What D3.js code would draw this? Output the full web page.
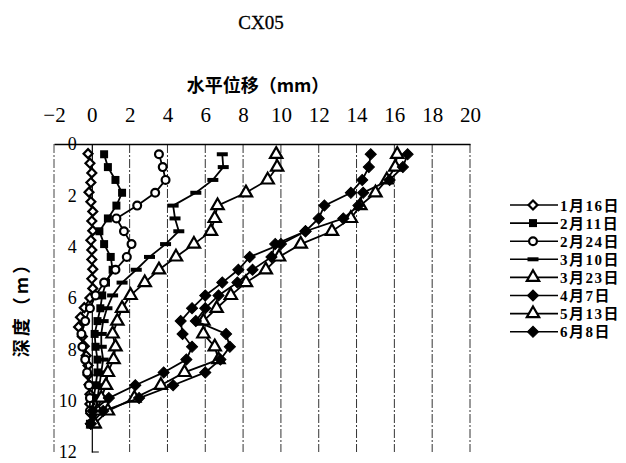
<!DOCTYPE html>
<html>
<head>
<meta charset="utf-8">
<script src="https://cdn.jsdelivr.net/npm/d3@7"></script>
<style>
  body { margin: 0; background: #fff; }
  svg { display: block; }
  .tick text { font-family: "Liberation Serif", serif; fill: #000; }
</style>
</head>
<body>
<svg id="chart" width="626" height="463"></svg>
<script>
// Tick labels
const xTicks = [-2, 0, 2, 4, 6, 8, 10, 12, 14, 16, 18, 20];
const yTicks = [0, 2, 4, 6, 8, 10, 12];

// Depths (m) - the first survey was read at a finer spacing
const depthsFine = [0.375, 0.75, 1.125, 1.5, 1.875, 2.25, 2.625, 3.0, 3.375, 3.75,
  4.125, 4.5, 4.875, 5.25, 5.625, 6.0, 6.375, 6.75, 7.125, 7.5,
  7.875, 8.25, 8.625, 9.0, 9.375, 9.75, 10.125, 10.5];
const depths = [0.4, 0.9, 1.4, 1.9, 2.4, 2.9, 3.4, 3.9, 4.4, 4.9, 5.4,
  5.9, 6.4, 6.9, 7.4, 7.9, 8.4, 8.9, 9.4, 9.9, 10.4, 10.9];

// Horizontal displacement (mm) per survey
const jan16 = [-0.2, -0.1, 0.0, -0.05, -0.15, -0.05, 0.05, 0.0, 0.05, -0.05,
  0.0, 0.0, 0.05, 0.0, 0.05, -0.1, -0.4, -0.6, -0.7, -0.5,
  -0.4, -0.3, -0.2, -0.2, -0.15, -0.1, -0.1, -0.05];
const feb11 = [0.65, 0.85, 1.25, 1.6, 1.3, 0.85, 0.4, 0.65, 1.0, 1.1, 0.75,
  0.55, 0.45, 0.3, 0.15, 0.2, 0.3, 0.3, 0.2, 0.1, 0.0, -0.1];
const feb24 = [3.55, 3.75, 3.9, 3.35, 2.4, 1.3, 1.7, 2.1, 1.85, 1.25, 0.65,
  0.2, -0.1, -0.35, -0.55, -0.5, -0.35, -0.25, -0.15, -0.1, -0.1, -0.05];
const mar10 = [6.9, 6.95, 6.4, 5.5, 4.3, 4.4, 4.6, 3.9, 3.05, 2.35, 1.6,
  1.1, 0.8, 0.6, 0.5, 0.5, 0.6, 0.5, 0.4, 0.3, 0.2, 0.1];
const mar23 = [9.75, 9.8, 9.3, 8.15, 6.65, 6.5, 6.3, 5.4, 4.45, 3.55, 2.8,
  2.05, 1.6, 1.35, 1.1, 1.25, 1.15, 0.85, 0.75, 0.5, 0.3, 0.1];
const apr7 = [14.75, 14.65, 14.3, 13.7, 12.3, 12.0, 11.3, 10.0, 8.35, 7.75, 6.9,
  6.0, 5.3, 4.7, 4.8, 5.3, 5.0, 3.8, 2.3, 0.9, 0.05, -0.05];
const may13 = [16.15, 16.05, 15.6, 15.0, 14.2, 13.7, 12.7, 11.05, 9.9, 9.2, 8.15,
  7.35, 6.6, 5.9, 5.9, 6.5, 6.7, 4.9, 3.65, 2.25, 0.85, 0.15];
const jun8 = [16.7, 16.45, 15.75, 14.35, 14.1, 13.3, 11.3, 9.7, 9.5, 8.5, 7.7,
  6.7, 6.0, 5.5, 7.1, 7.3, 6.8, 6.0, 4.3, 2.5, 0.6, -0.05];

const seriesNames = ["1月16日", "2月11日", "2月24日", "3月10日", "3月23日", "4月7日", "5月13日", "6月8日"];
const seriesValues = [jan16, feb11, feb24, mar10, mar23, apr7, may13, jun8];
const seriesDepths = [depthsFine, depths, depths, depths, depths, depths, depths, depths];
const seriesMarkers = ["diamondOpen", "square", "circleOpen", "dash", "triangleOpen", "diamond", "triangleOpen", "diamond"];

const svg = d3.select("#chart");

const x = d3.scaleLinear().domain([-2, 20]).range([54, 470]);
const y = d3.scaleLinear().domain([0, 12]).range([144, 452]);

// Title
svg.append("text")
  .attr("x", 261).attr("y", 29)
  .attr("text-anchor", "middle")
  .style("font-family", "Liberation Serif, serif")
  .style("font-size", "19px")
  .style("stroke", "#000")
  .style("stroke-width", 0.3)
  .text("CX05");

// Axis titles
svg.append("text")
  .attr("x", 258).attr("y", 92)
  .attr("text-anchor", "middle")
  .style("font-family", "Noto Sans CJK SC, sans-serif")
  .style("font-weight", "bold")
  .style("font-size", "18px")
  .text("水平位移（mm）");

svg.append("text")
  .attr("transform", "translate(28,305) rotate(-90)")
  .attr("text-anchor", "middle")
  .style("font-family", "Noto Sans CJK SC, sans-serif")
  .style("font-weight", "bold")
  .style("font-size", "18px")
  .style("letter-spacing", "3px")
  .text("深度（m）");

// Grid lines and left border
svg.append("g")
  .selectAll("line")
  .data(xTicks.filter((t) => t > 0))
  .enter()
  .append("line")
  .attr("x1", (d) => x(d))
  .attr("x2", (d) => x(d))
  .attr("y1", y(0))
  .attr("y2", y(12))
  .style("stroke", "#333")
  .style("stroke-width", 1)
  .style("stroke-dasharray", "9,2,2,2");

svg.append("line")
  .attr("x1", x(-2)).attr("x2", x(-2))
  .attr("y1", y(0)).attr("y2", y(12))
  .style("stroke", "#444")
  .style("stroke-dasharray", "9,2,2,2");

// Top axis
const xAxis = svg.append("g")
  .attr("transform", "translate(0," + y(0) + ")")
  .call(d3.axisTop(x).tickValues(xTicks).tickSize(0).tickSizeOuter(0).tickPadding(22));
xAxis.select(".domain").style("stroke", "#000").style("stroke-width", 1.5);
xAxis.selectAll(".tick text").style("font-size", "21px");

// Depth axis at x = 0
const yAxis = svg.append("g")
  .attr("transform", "translate(" + x(0) + ",0)")
  .call(d3.axisLeft(y).tickValues(yTicks).tickSize(0).tickSizeOuter(0).tickPadding(15));
yAxis.select(".domain").style("stroke", "#000").style("stroke-width", 1.2);
yAxis.selectAll(".tick text").style("font-size", "18px");
svg.append("line")
  .attr("x1", x(0)).attr("x2", x(0) + 7)
  .attr("y1", y(12)).attr("y2", y(12))
  .style("stroke", "#000");

// Marker drawing
const drawMarker = (sel, type) => {
  if (type === "diamond" || type === "diamondOpen") {
    sel.append("path")
      .attr("d", d3.symbol().type(d3.symbolSquare).size(type === "diamond" ? 62 : 40)())
      .attr("transform", "rotate(45)")
      .style("fill", type === "diamond" ? "#000" : "#fff")
      .style("stroke", "#000")
      .style("stroke-width", type === "diamond" ? 1 : 2.2);
  } else if (type === "square") {
    sel.append("path")
      .attr("d", d3.symbol().type(d3.symbolSquare).size(64)())
      .style("fill", "#000");
  } else if (type === "circleOpen") {
    sel.append("path")
      .attr("d", d3.symbol().type(d3.symbolCircle).size(48)())
      .style("fill", "#fff")
      .style("stroke", "#000")
      .style("stroke-width", 2.2);
  } else if (type === "triangleOpen") {
    sel.append("path")
      .attr("d", d3.symbol().type(d3.symbolTriangle).size(66)())
      .style("fill", "#fff")
      .style("stroke", "#000")
      .style("stroke-width", 2.2);
  } else if (type === "dash") {
    sel.append("rect")
      .attr("x", -5.5).attr("y", -2)
      .attr("width", 11).attr("height", 4)
      .style("fill", "#000");
  }
};

const line = d3.line().x((d) => x(d.v)).y((d) => y(d.d));

const plot = svg.append("g");
seriesValues.forEach((vals, i) => {
  const pts = vals.map((v, j) => ({ v: v, d: seriesDepths[i][j] }));
  const g = plot.append("g");
  g.append("path")
    .datum(pts)
    .attr("d", line)
    .style("fill", "none")
    .style("stroke", "#000")
    .style("stroke-width", 1.8);
  g.selectAll("g.mk")
    .data(pts)
    .enter()
    .append("g")
    .attr("class", "mk")
    .attr("transform", (d) => "translate(" + x(d.v) + "," + y(d.d) + ")")
    .each(function () { drawMarker(d3.select(this), seriesMarkers[i]); });
});

// Legend
const legend = svg.append("g").attr("transform", "translate(510,205)");
seriesNames.forEach((name, i) => {
  const row = legend.append("g").attr("transform", "translate(0," + i * 18.1 + ")");
  row.append("line")
    .attr("x1", 0).attr("x2", 48)
    .style("stroke", "#000")
    .style("stroke-width", 1.6);
  drawMarker(row.append("g").attr("transform", "translate(23,0)"), seriesMarkers[i]);
  row.append("text")
    .attr("x", 50).attr("y", 5.5)
    .style("font-family", "Liberation Serif, Noto Sans CJK SC, serif")
    .style("font-weight", "bold")
    .style("font-size", "15px")
    .style("letter-spacing", "1.5px")
    .text(name);
});
</script>
</body>
</html>
